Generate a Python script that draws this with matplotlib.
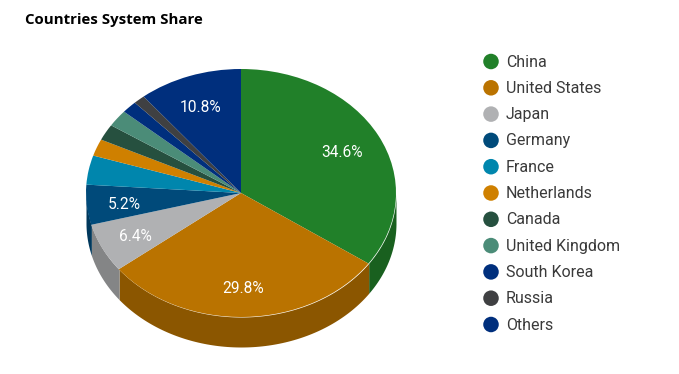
import numpy as np
from matplotlib import pyplot as plt
from matplotlib.colors import to_rgb

countries = ['China', 'United States', 'Japan', 'Germany', 'France', 'Netherlands',
             'Canada', 'United Kingdom', 'South Korea', 'Russia', 'Others']
shares = [34.6, 29.8, 6.4, 5.2, 3.8, 2.2, 2.1, 2.2, 1.6, 1.2, 10.8]
colors = ['#218029', '#BA7300', '#B0B1B3', '#004A7A', '#0086AD', '#CF8000',
          '#26503F', '#4B8C78', '#002F7D', '#3F4042', '#002F7D']

W, H = 679, 374
DEPTH = 30 / 124  # height of the pie side, in pie radii


def darker(color, k=0.75):
    return tuple(c * k for c in to_rgb(color))


def draw_side(ax, values, cols):
    # front wall of the pie, only the part below the centre line is visible
    start = 90.0
    for v, c in zip(values, cols):
        end = start - v * 3.6
        a = np.radians(np.linspace(start, end, 100))
        x = np.cos(a)
        y = np.sin(a)
        front = y <= 0
        if front.any():
            ax.fill_between(x[front], y[front] - DEPTH, y[front], color=darker(c), lw=0)
        start = end


def pct_label(p):
    return '{:.1f}%'.format(p) if p >= 5 else ''


fig = plt.figure(figsize=(W / 100, H / 100), dpi=100)
plt.rcParams['font.family'] = 'Roboto'

ax = fig.add_axes([86 / W, 1 - 347 / H, 310 / W, 278 / H])
draw_side(ax, shares, colors)
wedges, _, labels = ax.pie(shares, colors=colors, startangle=90, counterclock=False,
                           autopct=pct_label, pctdistance=0.75, radius=1,
                           textprops={'color': 'white', 'fontsize': 11.2, 'family': 'Roboto'})
# labels sit a little lower and to the left in the original
for t in labels:
    t.set_x(t.get_position()[0] - 1.5 / 155)
    t.set_y(t.get_position()[1] - 2.5 / 124)
ax.set_aspect('auto')
ax.set_xlim(-1, 1)
ax.set_ylim(-1 - DEPTH, 1)
ax.axis('off')

# legend
lax = fig.add_axes([0, 0, 1, 1])
lax.set_xlim(0, W)
lax.set_ylim(H, 0)
lax.axis('off')
lax.patch.set_alpha(0)
ys = np.linspace(61.5, 324.5, len(countries))
lax.scatter([491] * len(countries), ys, s=125, c=colors, linewidths=0)
for name, y in zip(countries, ys):
    lax.text(506, y + 0.5, name, fontsize=11.5, color='#3a3a3a', va='center', ha='left',
             family='Roboto')

fig.text(25 / W, 1 - 20 / H, 'Countries System Share', fontsize=10.8, fontweight='bold',
         color='black', va='center', family='Open Sans')

fig.savefig('out.png', dpi=100)
